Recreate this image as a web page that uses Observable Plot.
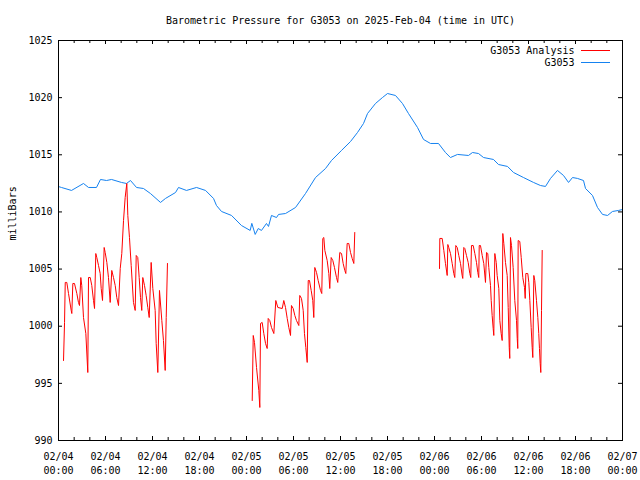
<!DOCTYPE html>
<html>
<head>
<meta charset="utf-8">
<script src="https://cdn.jsdelivr.net/npm/d3@7"></script>
<script src="https://cdn.jsdelivr.net/npm/@observablehq/plot@0.6"></script>
<style>
  html, body { margin: 0; padding: 0; background: #fff; }
</style>
</head>
<body>
<div id="chart"></div>
<script>
// ---- data (hours after 2025-02-04 00:00 UTC, pressure in milliBars) ----
const titleText = "Barometric Pressure for G3053 on 2025-Feb-04 (time in UTC)";
const yLabelText = "milliBars";
const seriesNames = ["G3053 Analysis", "G3053"];
const yTicks = [990, 995, 1000, 1005, 1010, 1015, 1020, 1025];

const stationHours = [0, 0.38, 1.66, 3.19, 3.83, 4.85, 5.36, 6.13, 6.77, 8.04, 8.68, 9.19, 9.96, 10.85, 11.74, 13.02, 13.66, 14.94, 15.32, 16.34, 17.62, 18.77, 19.79, 20.17, 20.81, 22.09, 23.36, 24.47, 24.68, 25.11, 25.5, 25.91, 26.55, 26.81, 27.19, 27.83, 28.09, 28.98, 30.26, 31.53, 32.81, 34.09, 34.85, 36.13, 37.28, 38.17, 38.94, 39.45, 40.47, 41.36, 42.0, 43.02, 43.91, 44.68, 45.83, 46.6, 47.49, 48.51, 49.4, 50.04, 50.94, 52.34, 52.85, 53.62, 54.26, 55.53, 56.17, 57.32, 58.09, 59.36, 60.64, 61.53, 62.17, 62.81, 63.7, 64.47, 65.11, 65.62, 66.26, 67.02, 67.28, 68.17, 68.81, 69.45, 70.09, 70.72, 71.49, 72.0];
const stationPressure = [1012.22, 1012.14, 1011.88, 1012.49, 1012.14, 1012.14, 1012.84, 1012.75, 1012.84, 1012.58, 1012.49, 1012.75, 1012.14, 1012.05, 1011.61, 1010.83, 1011.18, 1011.7, 1012.14, 1011.88, 1012.14, 1011.88, 1011.18, 1010.56, 1010.04, 1009.69, 1008.81, 1008.38, 1009.0, 1008.03, 1008.55, 1008.38, 1008.99, 1008.73, 1009.69, 1009.51, 1009.78, 1009.86, 1010.39, 1011.61, 1013.01, 1013.8, 1014.5, 1015.38, 1016.16, 1016.95, 1017.74, 1018.61, 1019.49, 1020.01, 1020.36, 1020.19, 1019.49, 1018.61, 1017.39, 1016.34, 1015.99, 1015.99, 1015.2, 1014.76, 1015.03, 1014.94, 1015.2, 1015.11, 1014.76, 1014.59, 1014.15, 1013.98, 1013.45, 1013.01, 1012.58, 1012.31, 1012.23, 1012.93, 1013.63, 1013.19, 1012.58, 1013.01, 1012.93, 1012.75, 1012.05, 1011.44, 1010.39, 1009.78, 1009.69, 1010.04, 1010.13, 1010.21];

const analysis1Hours = [0.64, 0.77, 0.86, 1.06, 1.28, 1.62, 1.70, 1.83, 2.04, 2.34, 2.55, 2.68, 2.85, 2.97, 3.19, 3.49, 3.74, 3.83, 4.05, 4.25, 4.47, 4.60, 4.76, 4.89, 5.11, 5.32, 5.45, 5.62, 5.83, 5.96, 6.17, 6.38, 6.60, 6.80, 7.02, 7.24, 7.44, 7.66, 7.88, 8.08, 8.30, 8.51, 8.72, 8.85, 9.06, 9.28, 9.57, 9.79, 9.92, 10.12, 10.30, 10.47, 10.63, 10.76, 10.98, 11.19, 11.40, 11.58, 11.83, 12.04, 12.34, 12.47, 12.68, 12.89, 13.19, 13.40, 13.62, 13.75, 13.91];
const analysis1Pressure = [997.0, 1000.33, 1003.83, 1003.83, 1002.86, 1001.38, 1001.11, 1003.74, 1003.74, 1002.86, 1002.08, 1001.81, 1004.26, 1003.56, 1000.76, 999.36, 995.95, 1004.26, 1004.26, 1003.56, 1002.25, 1001.55, 1006.36, 1006.01, 1005.31, 1004.61, 1003.3, 1002.25, 1006.89, 1006.45, 1005.58, 1004.26, 1002.08, 1004.88, 1004.26, 1003.56, 1002.51, 1001.81, 1005.05, 1006.36, 1009.25, 1011.26, 1012.49, 1009.69, 1007.76, 1005.31, 1002.08, 1001.38, 1006.19, 1006.01, 1004.26, 1002.51, 1001.38, 1004.26, 1003.56, 1002.69, 1001.64, 1000.76, 1005.58, 1003.3, 1001.38, 998.49, 995.95, 1003.13, 1000.5, 998.75, 996.13, 1000.76, 1005.49];

const analysis2Hours = [24.73, 24.86, 25.02, 25.28, 25.57, 25.70, 25.79, 26.00, 26.21, 26.43, 26.64, 26.77, 26.97, 27.19, 27.49, 27.74, 28.00, 28.56, 28.76, 28.98, 29.20, 29.40, 29.62, 29.74, 29.96, 30.17, 30.38, 30.68, 30.80, 31.02, 31.24, 31.40, 31.57, 31.75, 31.88, 32.04, 32.26, 32.46, 32.59, 32.72, 32.94, 33.15, 33.45, 33.61, 33.74, 33.87, 34.00, 34.30, 34.51, 34.63, 34.81, 35.02, 35.23, 35.49, 35.65, 35.91, 36.13, 36.34, 36.55, 36.68, 36.85, 37.06, 37.28, 37.49, 37.70, 37.82];
const analysis2Pressure = [993.5, 999.19, 998.58, 996.39, 994.38, 992.89, 1000.24, 1000.33, 999.36, 998.49, 998.05, 1000.68, 1000.5, 999.89, 999.36, 1002.25, 1001.64, 1001.55, 1002.25, 1001.64, 1000.68, 999.89, 999.19, 1001.81, 1001.55, 1000.94, 1000.5, 1000.06, 1002.69, 1002.43, 1001.38, 999.36, 998.14, 996.83, 1004.0, 1004.0, 1003.13, 1002.25, 1000.76, 1005.14, 1004.7, 1004.0, 1003.13, 1002.86, 1007.68, 1007.76, 1006.63, 1005.75, 1004.61, 1003.3, 1006.01, 1005.75, 1005.14, 1004.26, 1003.83, 1006.45, 1006.36, 1005.49, 1004.88, 1004.61, 1007.24, 1007.24, 1006.45, 1005.93, 1005.49, 1008.2];

const analysis3Hours = [48.64, 48.68, 48.98, 49.19, 49.40, 49.62, 49.70, 49.82, 50.04, 50.26, 50.46, 50.59, 50.72, 50.90, 51.10, 51.32, 51.53, 51.61, 51.74, 51.87, 52.08, 52.30, 52.51, 52.63, 52.72, 52.94, 53.15, 53.36, 53.53, 53.65, 53.71, 53.87, 54.09, 54.29, 54.51, 54.64, 54.80, 54.93, 55.15, 55.24, 55.36, 55.49, 55.57, 55.70, 55.88, 56.00, 56.21, 56.34, 56.51, 56.64, 56.72, 56.85, 57.06, 57.28, 57.41, 57.54, 57.61, 57.70, 57.83, 58.04, 58.25, 58.47, 58.56, 58.63, 58.68, 58.89, 59.07, 59.27, 59.49, 59.58, 59.66, 59.91, 60.04, 60.17, 60.34, 60.47, 60.55, 60.68, 60.80, 61.02, 61.19, 61.31, 61.40, 61.49, 61.57, 61.66, 61.75];
const analysis3Pressure = [1005.05, 1007.68, 1007.68, 1006.63, 1005.49, 1004.44, 1007.15, 1006.89, 1006.36, 1005.49, 1004.61, 1004.26, 1007.06, 1006.89, 1006.19, 1005.49, 1004.44, 1004.18, 1006.89, 1006.8, 1006.19, 1005.58, 1004.61, 1004.26, 1007.06, 1007.06, 1006.36, 1005.58, 1004.7, 1004.26, 1007.06, 1007.06, 1006.19, 1005.49, 1003.83, 1006.45, 1006.36, 1005.14, 1003.56, 1002.25, 1000.94, 999.8, 999.19, 1006.36, 1005.58, 1004.44, 1003.3, 1000.5, 999.36, 998.75, 1008.11, 1007.24, 1005.58, 1004.44, 1001.64, 998.14, 997.18, 1007.76, 1007.06, 1005.14, 1002.25, 1000.5, 998.93, 998.05, 1007.5, 1007.41, 1006.01, 1004.26, 1003.39, 1002.43, 1004.61, 1004.61, 1003.83, 1002.25, 999.89, 998.14, 997.26, 1004.44, 1004.0, 1002.25, 1000.76, 999.36, 998.05, 996.74, 995.95, 1001.38, 1006.63];

// ---- build tables ----
const start = Date.UTC(2025, 1, 4);
const toDate = h => new Date(start + h * 3600e3);
const station = stationHours.map((h, i) => ({t: toDate(h), p: stationPressure[i]}));
const analysis = [
  [analysis1Hours, analysis1Pressure],
  [analysis2Hours, analysis2Pressure],
  [analysis3Hours, analysis3Pressure]
].flatMap(([hs, ps], s) => hs.map((h, i) => ({t: toDate(h), p: ps[i], seg: s})));

const x0 = toDate(0), x1 = toDate(72);
const majorX = d3.utcHour.every(6).range(x0, toDate(72.01));
const minorX = d3.utcHour.every(2).range(x0, toDate(72.01)).filter(d => d.getUTCHours() % 6 !== 0);
const fmt = d3.utcFormat("%m/%d\n%H:%M");

const blueColor = "#1582f0";
const redColor = "#ff0000";
const font = "'DejaVu Sans Mono', 'Liberation Mono', monospace";

const chart = Plot.plot({
  width: 640,
  height: 480,
  marginLeft: 58,
  marginRight: 18,
  marginTop: 40,
  marginBottom: 40,
  style: {fontFamily: font, fontSize: "10px", background: "white", color: "black"},
  x: {type: "utc", domain: [x0, x1]},
  y: {domain: [990, 1025]},
  marks: [
    Plot.line(station, {x: "t", y: "p", stroke: blueColor, strokeWidth: 1}),
    Plot.line(analysis, {x: "t", y: "p", z: "seg", stroke: redColor, strokeWidth: 1}),
    Plot.frame({stroke: "black"}),
    // inward ticks
    Plot.tickX(majorX, {x: d => d, insetTop: 396, stroke: "black"}),
    Plot.tickX(majorX, {x: d => d, insetBottom: 396, stroke: "black"}),
    Plot.tickX(minorX, {x: d => d, insetTop: 397, stroke: "black"}),
    Plot.tickX(minorX, {x: d => d, insetBottom: 397, stroke: "black"}),
    Plot.tickY(yTicks, {y: d => d, insetRight: 560, stroke: "black"}),
    Plot.tickY(yTicks, {y: d => d, insetLeft: 560, stroke: "black"}),
    Plot.axisX({ticks: majorX, tickSize: 0, tickPadding: 9, tickFormat: fmt, lineHeight: 1.45, label: null, fontSize: 10}),
    Plot.axisY({ticks: yTicks, tickSize: 0, tickPadding: 6, tickFormat: d => String(d), label: null, fontSize: 10}),
    Plot.text([titleText], {frameAnchor: "top", dy: -20, lineAnchor: "middle", fontSize: 10}),
    Plot.text([yLabelText], {frameAnchor: "left", dx: -46, rotate: -90, fontSize: 10}),
    Plot.text([seriesNames[0]], {frameAnchor: "top-right", dx: -48, dy: 10, lineAnchor: "middle", textAnchor: "end", fontSize: 10}),
    Plot.text([seriesNames[1]], {frameAnchor: "top-right", dx: -48, dy: 22, lineAnchor: "middle", textAnchor: "end", fontSize: 10})
  ]
});

// legend line samples
const svg = d3.select(chart);
[[redColor, 50], [blueColor, 62]].forEach(([c, y]) => {
  svg.append("line").attr("x1", 581).attr("x2", 610).attr("y1", y + 0.5).attr("y2", y + 0.5)
    .attr("stroke", c).attr("stroke-width", 1);
});

document.getElementById("chart").appendChild(chart);
</script>
</body>
</html>
